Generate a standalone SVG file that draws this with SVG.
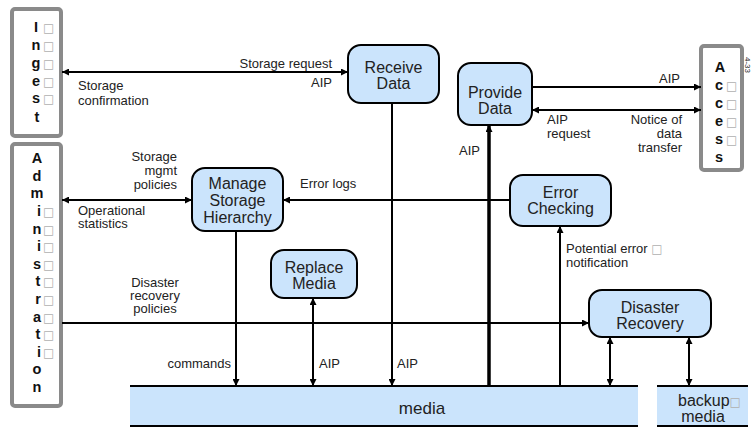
<svg xmlns="http://www.w3.org/2000/svg" width="753" height="427" viewBox="0 0 753 427">
<style>
.ext{fill:#fff;stroke:#8a8a8a;stroke-width:4}
.node{fill:#cbe4fc;stroke:#000;stroke-width:2}
.nt{font-family:"Liberation Sans",Arial,sans-serif;font-size:16px;fill:#222;text-anchor:middle}
.lb{font-family:"Liberation Sans",Arial,sans-serif;font-size:13px;fill:#222}
.lt{font-family:"Liberation Sans",Arial,sans-serif;font-size:14.5px;font-weight:bold;fill:#111;text-anchor:middle}
.bx{font-family:"DejaVu Sans",sans-serif;font-size:12px;font-weight:normal;fill:#b0b0b0;text-anchor:start}
.e{text-anchor:end}
.m{text-anchor:middle}
.ln{stroke:#000;stroke-width:2;fill:none}
.thick{stroke-width:3.5}
.media{fill:#cbe4fc}
</style>
<defs>
<marker id="ah" viewBox="0 0 10 10" refX="10" refY="5" markerWidth="9" markerHeight="7" markerUnits="userSpaceOnUse" orient="auto-start-reverse">
<path d="M0,0 L10,5 L0,10 z" fill="#000"/>
</marker>
</defs>

<g id="ingest">
<rect class="ext" x="12" y="9" width="49" height="127" rx="3"/>
<text class="lt" x="36" y="32">I<tspan class="bx" x="43">□</tspan></text>
<text class="lt" x="36" y="50">n<tspan class="bx" x="43">□</tspan></text>
<text class="lt" x="36" y="68">g<tspan class="bx" x="43">□</tspan></text>
<text class="lt" x="36" y="86">e<tspan class="bx" x="43">□</tspan></text>
<text class="lt" x="36" y="103">s<tspan class="bx" x="43">□</tspan></text>
<text class="lt" x="37" y="122">t</text>
</g>

<g id="administration">
<rect class="ext" x="12" y="144" width="49" height="262" rx="3"/>
<text class="lt" x="37" y="163">A</text>
<text class="lt" x="37" y="180.6">d</text>
<text class="lt" x="37" y="198.2">m</text>
<text class="lt" x="39" y="215.8">i<tspan class="bx" x="43">□</tspan></text>
<text class="lt" x="37" y="233.5">n<tspan class="bx" x="43">□</tspan></text>
<text class="lt" x="39" y="251.1">i<tspan class="bx" x="43">□</tspan></text>
<text class="lt" x="37" y="268.7">s<tspan class="bx" x="43">□</tspan></text>
<text class="lt" x="38" y="286.3">t<tspan class="bx" x="43">□</tspan></text>
<text class="lt" x="38" y="303.9">r<tspan class="bx" x="43">□</tspan></text>
<text class="lt" x="37" y="321.5">a<tspan class="bx" x="43">□</tspan></text>
<text class="lt" x="38" y="339.2">t<tspan class="bx" x="43">□</tspan></text>
<text class="lt" x="39" y="356.8">i<tspan class="bx" x="43">□</tspan></text>
<text class="lt" x="37" y="374.4">o</text>
<text class="lt" x="37" y="392">n</text>
</g>

<g id="access">
<rect class="ext" x="701" y="46" width="41" height="124" rx="3"/>
<text class="lt" x="720" y="72">A</text>
<text class="lt" x="719" y="90">c<tspan class="bx" x="726">□</tspan></text>
<text class="lt" x="719" y="108">c<tspan class="bx" x="726">□</tspan></text>
<text class="lt" x="719" y="126">e<tspan class="bx" x="726">□</tspan></text>
<text class="lt" x="719" y="144">s<tspan class="bx" x="726">□</tspan></text>
<text class="lt" x="719" y="162">s</text>
</g>
<text class="lb m" x="0" y="0" style="font-size:8px" transform="translate(745,65) rotate(90)">4-33</text>

<g id="receive-data">
<rect class="node" x="348" y="45" width="91" height="58" rx="13"/>
<text class="nt" x="393.5" y="73">Receive</text>
<text class="nt" x="393.5" y="89">Data</text>
</g>

<g id="provide-data">
<rect class="node" x="458" y="63" width="74" height="62" rx="13"/>
<text class="nt" x="495" y="98">Provide</text>
<text class="nt" x="495" y="114">Data</text>
</g>

<g id="manage-storage-hierarchy">
<rect class="node" x="192" y="168" width="91" height="63" rx="13"/>
<text class="nt" x="237.5" y="189">Manage</text>
<text class="nt" x="237.5" y="206">Storage</text>
<text class="nt" x="237.5" y="223">Hierarchy</text>
</g>

<g id="error-checking">
<rect class="node" x="510" y="175" width="101" height="51" rx="13"/>
<text class="nt" x="560.5" y="198">Error</text>
<text class="nt" x="560.5" y="214">Checking</text>
</g>

<g id="replace-media">
<rect class="node" x="271" y="250" width="86" height="48" rx="13"/>
<text class="nt" x="314" y="273">Replace</text>
<text class="nt" x="314" y="289">Media</text>
</g>

<g id="disaster-recovery">
<rect class="node" x="589" y="290" width="122" height="47" rx="13"/>
<text class="nt" x="650" y="313">Disaster</text>
<text class="nt" x="650" y="329">Recovery</text>
</g>

<g id="media">
<rect class="media" x="130" y="386" width="508" height="40"/>
<line class="ln" x1="130" y1="386" x2="638" y2="386"/>
<line class="ln" x1="130" y1="426" x2="638" y2="426"/>
<text class="nt" x="422" y="414" style="font-size:17px">media</text>
</g>

<g id="backup-media">
<rect class="media" x="657" y="386" width="91" height="40"/>
<line class="ln" x1="657" y1="386" x2="748" y2="386"/>
<line class="ln" x1="657" y1="426" x2="748" y2="426"/>
<text class="nt" x="678" y="406" style="font-size:16px;text-anchor:start">backup<tspan class="bx" style="font-size:12px">□</tspan></text>
<text class="nt" x="703" y="422" style="font-size:16px">media</text>
</g>

<g id="connectors">
<line class="ln" x1="62" y1="72" x2="348" y2="72" marker-start="url(#ah)" marker-end="url(#ah)"/>
<line class="ln" x1="62" y1="200" x2="192" y2="200" marker-start="url(#ah)" marker-end="url(#ah)"/>
<line class="ln" x1="510" y1="200" x2="283" y2="200" marker-end="url(#ah)"/>
<line class="ln" x1="62" y1="323" x2="589" y2="323" marker-end="url(#ah)"/>
<line class="ln" x1="392" y1="103" x2="392" y2="386" marker-end="url(#ah)"/>
<line class="ln" x1="236" y1="231" x2="236" y2="386" marker-end="url(#ah)"/>
<line class="ln" x1="313" y1="298" x2="313" y2="386" marker-start="url(#ah)" marker-end="url(#ah)"/>
<line class="ln thick" x1="489" y1="386" x2="489" y2="125" marker-end="url(#ah)"/>
<line class="ln" x1="560" y1="386" x2="560" y2="226" marker-end="url(#ah)"/>
<line class="ln" x1="610" y1="337" x2="610" y2="386" marker-start="url(#ah)" marker-end="url(#ah)"/>
<line class="ln" x1="689" y1="337" x2="689" y2="386" marker-start="url(#ah)" marker-end="url(#ah)"/>
<line class="ln" x1="532" y1="87" x2="701" y2="87" marker-end="url(#ah)"/>
<line class="ln" x1="532" y1="110" x2="701" y2="110" marker-start="url(#ah)" marker-end="url(#ah)"/>

<text class="lb e" x="332" y="68">Storage request</text>
<text class="lb e" x="332" y="87">AIP</text>
<text class="lb" x="78" y="90">Storage</text>
<text class="lb" x="78" y="105">confirmation</text>
<text class="lb e" x="177" y="161">Storage</text>
<text class="lb e" x="177" y="175">mgmt</text>
<text class="lb e" x="177" y="189">policies</text>
<text class="lb" x="78" y="215">Operational</text>
<text class="lb" x="78" y="228">statistics</text>
<text class="lb" x="300" y="188">Error logs</text>
<text class="lb m" x="155" y="287">Disaster</text>
<text class="lb m" x="155" y="300">recovery</text>
<text class="lb m" x="155" y="313">policies</text>
<text class="lb e" x="231" y="368">commands</text>
<text class="lb" x="319" y="368">AIP</text>
<text class="lb" x="397" y="368">AIP</text>
<text class="lb" x="459" y="155">AIP</text>
<text class="lb" x="566" y="253">Potential error <tspan class="bx">□</tspan></text>
<text class="lb" x="566" y="267">notification</text>
<text class="lb e" x="680" y="83">AIP</text>
<text class="lb" x="547" y="124">AIP</text>
<text class="lb" x="547" y="138">request</text>
<text class="lb e" x="682" y="124">Notice of</text>
<text class="lb e" x="682" y="138">data</text>
<text class="lb e" x="682" y="152">transfer</text>
</g>
</svg>
